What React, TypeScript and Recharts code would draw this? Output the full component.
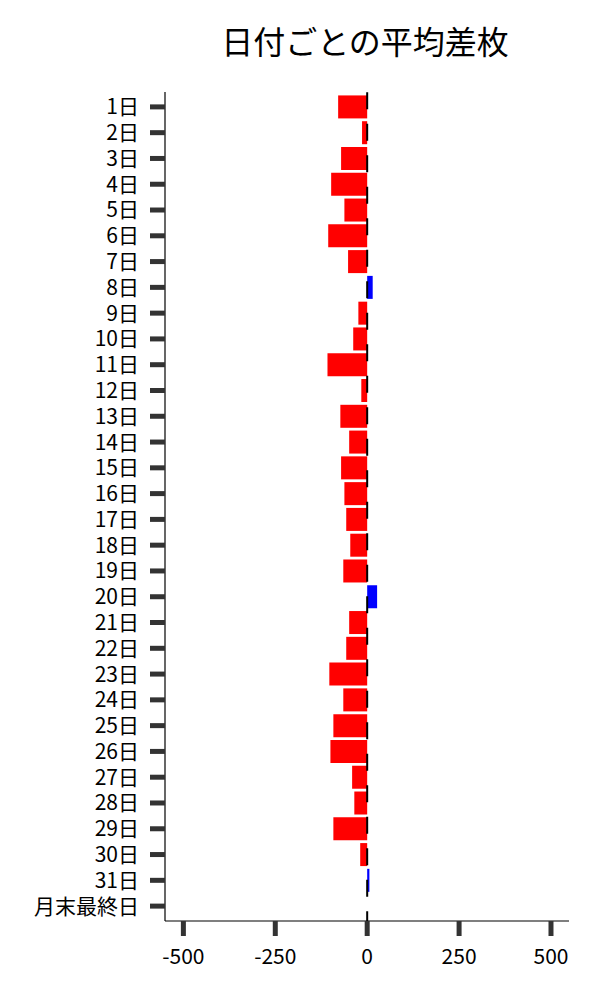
import { BarChart, Bar, XAxis, YAxis, Cell, ReferenceLine } from "recharts";

const days = [
  "1日", "2日", "3日", "4日", "5日", "6日", "7日", "8日", "9日", "10日",
  "11日", "12日", "13日", "14日", "15日", "16日", "17日", "18日", "19日", "20日",
  "21日", "22日", "23日", "24日", "25日", "26日", "27日", "28日", "29日", "30日",
  "31日", "月末最終日",
];

const avgDiff = [
  -79, -14, -71, -98, -62, -106, -52, 15, -24, -38,
  -108, -16, -73, -49, -71, -62, -57, -46, -65, 27,
  -49, -57, -103, -65, -92, -100, -41, -35, -92, -19,
  6, 0,
];

const xTicks = [-500, -250, 0, 250, 500];

const FONT = '"Noto Sans CJK JP", "Noto Sans", sans-serif';

const data = days.map((day, i) => ({ day, value: avgDiff[i] }));

export default function App() {
  return (
    <div style={{ position: "relative", width: 600, height: 1000, background: "#fff", fontFamily: FONT }}>
      <style>{`body{margin:0}`}</style>
      <div
        style={{
          position: "absolute",
          top: 24,
          left: 160,
          width: 410,
          textAlign: "center",
          fontSize: 32,
          lineHeight: 1,
          color: "#000",
        }}
      >
        日付ごとの平均差枚
      </div>
      <BarChart
        width={600}
        height={1000}
        data={data}
        layout="vertical"
        barCategoryGap="5.5%"
        margin={{ top: 92, right: 31, bottom: 29, left: 0 }}
      >
        <XAxis
          type="number"
          domain={[-550, 549]}
          ticks={xTicks}
          allowDataOverflow
          height={50}
          tickSize={15}
          tickMargin={13}
          axisLine={{ stroke: "#000", strokeWidth: 1.2 }}
          tickLine={{ stroke: "#333", strokeWidth: 5 }}
          tick={{ fontSize: 21, fill: "#000", fontFamily: FONT }}
        />
        <YAxis
          type="category"
          dataKey="day"
          width={165}
          interval={0}
          padding={{ top: 2, bottom: 2 }}
          tickSize={15}
          tickMargin={11}
          axisLine={{ stroke: "#000", strokeWidth: 1.2 }}
          tickLine={{ stroke: "#333", strokeWidth: 5 }}
          tick={{ fontSize: 21, fill: "#000", fontFamily: FONT }}
        />
        <Bar dataKey="value" isAnimationActive={false}>
          {data.map((d) => (
            <Cell key={d.day} fill={d.value >= 0 ? "#0000ff" : "#ff0000"} />
          ))}
        </Bar>
        <ReferenceLine
          x={0}
          stroke="#000"
          strokeWidth={2}
          strokeDasharray="17 14.5"
          strokeDashoffset={7.3}
        />
      </BarChart>
    </div>
  );
}
